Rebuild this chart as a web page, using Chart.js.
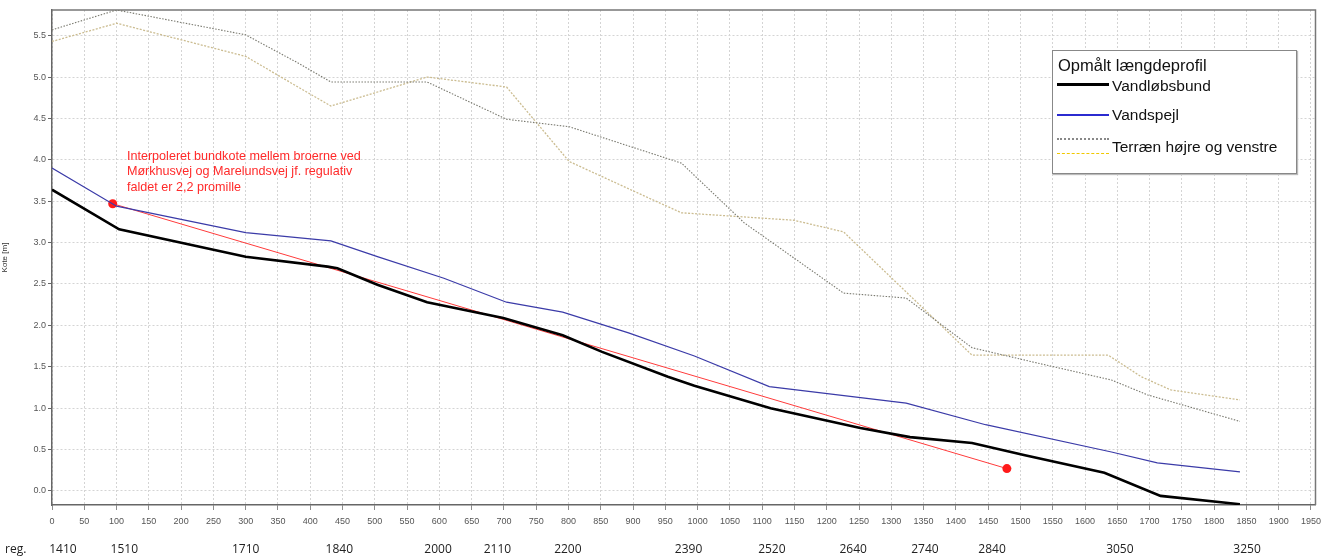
<!DOCTYPE html>
<html>
<head>
<meta charset="utf-8">
<script src="https://cdn.jsdelivr.net/npm/chart.js@4"></script>
<style>
  html, body { margin: 0; padding: 0; background: #fff; }
  #wrap { position: relative; width: 1327px; height: 557px; }
  #legend {
    position: absolute; left: 1052px; top: 50px; width: 243px; height: 122px;
    border: 1px solid #888; background: #fff; font-family: Arial, "Liberation Sans", sans-serif;
    box-shadow: 1px 1px 1px #bbb;
  }
  #legend .title { position: absolute; left: 5px; top: 5px; font-size: 16.5px; color: #111; white-space: nowrap; }
  #legend .item { position: absolute; left: 59px; font-size: 15.5px; color: #111; white-space: nowrap; }
  #legend .line { position: absolute; left: 4px; width: 52px; }
</style>
</head>
<body>
<div id="wrap">
  <canvas id="profileChart" width="1327" height="557"></canvas>
  <div id="legend">
    <div class="title">Opmålt længdeprofil</div>
    <div class="line" style="top:32px;border-top:3px solid #000;"></div>
    <div class="item" style="top:26px;">Vandløbsbund</div>
    <div class="line" style="top:63px;border-top:2px solid #2b2bd0;"></div>
    <div class="item" style="top:55px;">Vandspejl</div>
    <div class="line" style="top:87px;border-top:2px dotted #888;"></div>
    <div class="line" style="top:102px;border-top:1px dashed #f0c800;"></div>
    <div class="item" style="top:87px;">Terræn højre og venstre</div>
  </div>
</div>
<script>
// Station [m] and kote [m]
const bundX = [0, 104, 300, 427, 442, 504, 581, 699, 791, 852, 954, 995, 1113, 1252, 1329, 1425, 1507, 1630, 1717, 1840];
const bundY = [3.64, 3.16, 2.83, 2.71, 2.69, 2.49, 2.28, 2.09, 1.88, 1.68, 1.38, 1.27, 1.00, 0.76, 0.65, 0.58, 0.43, 0.22, -0.06, -0.16];

const spejlX = [0, 100, 300, 432, 504, 607, 704, 791, 893, 995, 1111, 1323, 1446, 1641, 1712, 1840];
const spejlY = [3.90, 3.44, 3.12, 3.02, 2.83, 2.57, 2.28, 2.16, 1.91, 1.63, 1.26, 1.06, 0.80, 0.47, 0.34, 0.23];

const hojreX = [0, 100, 300, 381, 432, 581, 704, 801, 975, 1072, 1226, 1323, 1425, 1518, 1641, 1697, 1840];
const hojreY = [5.57, 5.81, 5.51, 5.17, 4.94, 4.94, 4.49, 4.40, 3.96, 3.24, 2.39, 2.33, 1.73, 1.56, 1.34, 1.16, 0.84];

const venstreX = [0, 100, 300, 381, 432, 581, 704, 801, 924, 975, 1149, 1226, 1425, 1636, 1687, 1733, 1840];
const venstreY = [5.43, 5.65, 5.25, 4.88, 4.65, 5.00, 4.88, 3.98, 3.54, 3.36, 3.27, 3.13, 1.64, 1.64, 1.38, 1.22, 1.10];

// interpolated bottom between the bridges (2,2 promille)
const interpX = [94, 1479];
const interpY = [3.47, 0.27];

const xTicks = [];
for (let v = 0; v <= 1950; v += 50) xTicks.push(v);
const yTicks = [0, 0.5, 1.0, 1.5, 2.0, 2.5, 3.0, 3.5, 4.0, 4.5, 5.0, 5.5];

// "reg." stations shown under the axis
const regPos = [17, 112, 300, 445, 598, 690, 799, 986, 1115, 1241, 1352, 1456, 1654, 1851];
const regLabels = ['1410', '1510', '1710', '1840', '2000', '2110', '2200', '2390', '2520', '2640', '2740', '2840', '3050', '3250'];

const noteLines = [
  'Interpoleret bundkote mellem broerne ved',
  'Mørkhusvej og Marelundsvej jf. regulativ',
  'faldet er 2,2 promille'
];

function toPoints(xs, ys) {
  return xs.map((x, i) => ({ x: x, y: ys[i] }));
}

const tickFont = { family: '"Liberation Sans Narrow", "Liberation Sans", Arial, sans-serif', size: 9 };

const frameAndText = {
  id: 'frameAndText',
  beforeDatasetsDraw(chart) {
    const a = chart.chartArea;
    const ctx = chart.ctx;
    ctx.save();
    ctx.strokeStyle = '#777';
    ctx.lineWidth = 1.5;
    ctx.beginPath();
    ctx.moveTo(a.left, a.top);
    ctx.lineTo(a.right, a.top);
    ctx.lineTo(a.right, a.bottom);
    ctx.stroke();
    ctx.restore();
  },
  afterDatasetsDraw(chart) {
    const ctx = chart.ctx;
    const xs = chart.scales.x, ys = chart.scales.y;
    ctx.save();
    ctx.fillStyle = '#ff2a2a';
    ctx.font = '12.6px Arial, "Liberation Sans", sans-serif';
    ctx.textBaseline = 'middle';
    noteLines.forEach((t, i) => {
      ctx.fillText(t, xs.getPixelForValue(116), ys.getPixelForValue(4.04) + i * 15.5);
    });
    ctx.fillStyle = '#222';
    ctx.font = '12px "Open Sans", sans-serif';
    ctx.fillText('reg.', 5, chart.scales.x2.top + 17);
    ctx.restore();
  }
};

new Chart(document.getElementById('profileChart'), {
  type: 'line',
  data: {
    datasets: [
      {
        label: 'Terræn højre',
        data: toPoints(hojreX, hojreY),
        borderColor: '#7a7a70',
        borderWidth: 1.1,
        borderDash: [1.5, 1.5],
        pointRadius: 0,
        fill: false
      },
      {
        label: 'Terræn venstre',
        data: toPoints(venstreX, venstreY),
        borderColor: '#cbbc90',
        borderWidth: 1.3,
        borderDash: [2, 1.5],
        pointRadius: 0,
        fill: false
      },
      {
        label: 'Vandspejl',
        data: toPoints(spejlX, spejlY),
        borderColor: '#3b3ba8',
        borderWidth: 1.2,
        pointRadius: 0,
        fill: false
      },
      {
        label: 'Vandløbsbund',
        data: toPoints(bundX, bundY),
        borderColor: '#000',
        borderWidth: 2.6,
        pointRadius: 0,
        fill: false
      },
      {
        label: 'Interpoleret bundkote',
        data: toPoints(interpX, interpY),
        borderColor: '#ff3b3b',
        borderWidth: 1,
        pointRadius: 4.5,
        pointBackgroundColor: '#ff1a1a',
        pointBorderWidth: 0,
        fill: false
      }
    ]
  },
  options: {
    responsive: false,
    animation: false,
    layout: { padding: { top: 10, right: 2, left: 0, bottom: 0 } },
    plugins: {
      legend: { display: false },
      tooltip: { enabled: false }
    },
    scales: {
      x: {
        type: 'linear',
        position: 'bottom',
        min: 0,
        max: 1957,
        afterBuildTicks: scale => { scale.ticks = xTicks.map(v => ({ value: v })); },
        afterFit: scale => { scale.height = 28; },
        ticks: {
          font: tickFont, color: '#555', maxRotation: 0, autoSkip: false, padding: 6,
          callback: v => String(v)
        },
        grid: {
          color: '#d4d4d4', tickColor: '#666', tickBorderDash: [1, 0], tickLength: 5
        },
        border: { display: true, color: '#666', width: 1.5, dash: [2, 2] }
      },
      x2: {
        type: 'linear',
        position: 'bottom',
        min: 0,
        max: 1957,
        afterBuildTicks: scale => { scale.ticks = regPos.map(v => ({ value: v })); },
        afterFit: scale => { scale.height = 24; },
        ticks: {
          font: { family: '"Open Sans", sans-serif', size: 12 },
          color: '#222',
          maxRotation: 0,
          autoSkip: false,
          padding: 9,
          callback: (v, i) => regLabels[i]
        },
        grid: { display: false, drawTicks: false },
        border: { display: false }
      },
      y: {
        min: -0.17,
        max: 5.81,
        afterBuildTicks: scale => { scale.ticks = yTicks.map(v => ({ value: v })); },
        afterFit: scale => { scale.width = 52; },
        ticks: { font: tickFont, color: '#555', padding: 2, callback: v => v.toFixed(1) },
        grid: {
          color: '#d4d4d4', tickColor: '#666', tickBorderDash: [1, 0], tickLength: 4
        },
        border: { display: true, color: '#666', width: 1.5, dash: [2, 2] },
        title: {
          display: true,
          text: 'Kote [m]',
          font: { family: 'Arial, "Liberation Sans", sans-serif', size: 8 },
          color: '#333',
          padding: 0
        }
      }
    }
  },
  plugins: [frameAndText]
});
</script>
</body>
</html>
